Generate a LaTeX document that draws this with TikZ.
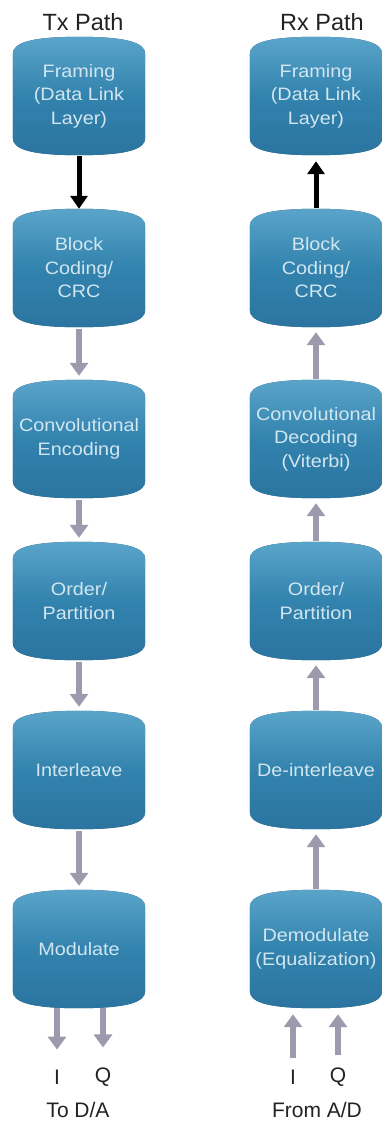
\documentclass[tikz,border=0pt]{standalone}
\usepackage{fontspec}
\setmainfont{Liberation Sans}
\newfontfamily\boxfont[FakeStretch=1.1]{Liberation Sans}
\usetikzlibrary{arrows.meta,calc,backgrounds}
\definecolor{boxtop}{HTML}{5AA4CA}
\definecolor{boxmid}{HTML}{3283AE}
\definecolor{boxbot}{HTML}{2B74A0}
\definecolor{boxrim}{HTML}{1B4E6E}
\definecolor{boxtext}{HTML}{D2E6F0}
\definecolor{arrowgray}{HTML}{9C9BAE}
\definecolor{labtext}{HTML}{222222}
\tikzset{
 stage/.style={rectangle, minimum width=132pt, minimum height=100pt, inner sep=0pt,
   align=center, text=boxtext, font=\boxfont\fontsize{18}{23.5}\selectfont},
 pathtitle/.style={font=\fontsize{23.5}{27}\selectfont, text=labtext, inner sep=0pt},
 lab/.style={font=\fontsize{21}{24}\selectfont, text=labtext, inner sep=0pt},
 grayarrow/.style={draw=arrowgray, line width=6pt, -{Triangle[width=18pt,length=13pt]}},
 blackarrow/.style={draw=black, line width=5pt, -{Triangle[width=17pt,length=13pt]}},
 rimfill/.style={fill=boxrim},
 bodyfill/.style={top color=boxtop, bottom color=boxbot, middle color=boxmid},
}
\newcommand\barrelshape[2][]{%
 \path[#1] ($(#2.south west)+(0,-8)$) -- ($(#2.north west)+(0,8)$)
  .. controls ($(#2.north west)+(0,-4)$) and ($(#2.north west)+(22,-9)$) .. ($(#2.north)+(0,-9)$)
  .. controls ($(#2.north east)+(-22,-9)$) and ($(#2.north east)+(0,-4)$) .. ($(#2.north east)+(0,8)$)
  -- ($(#2.south east)+(0,-8)$)
  .. controls ($(#2.south east)+(0,4)$) and ($(#2.south east)+(-22,9)$) .. ($(#2.south)+(0,9)$)
  .. controls ($(#2.south west)+(22,9)$) and ($(#2.south west)+(0,4)$) .. ($(#2.south west)+(0,-8)$)
  -- cycle;}
\begin{document}
\begin{tikzpicture}[x=1pt,y=-1pt]
\useasboundingbox (0,0) rectangle (382,1121);
% titles
\node[pathtitle] (txt) at (83,22) {Tx Path};
\node[pathtitle] (rxt) at (322,22) {Rx Path};
% Tx column
\node[stage] (tx1) at (79,96) {Framing\\(Data Link\\Layer)};
\node[stage] (tx2) at (79,268) {Block\\Coding/\\CRC};
\node[stage] (tx3) at (79,439) {Convolutional\\Encoding};
\node[stage] (tx4) at (79,601) {Order/\\Partition};
\node[stage] (tx5) at (79,770) {Interleave};
\node[stage] (tx6) at (79,949) {Modulate};
% Rx column
\node[stage] (rx1) at (316,96) {Framing\\(Data Link\\Layer)};
\node[stage] (rx2) at (316,268) {Block\\Coding/\\CRC};
\node[stage] (rx3) at (316,439) {Convolutional\\Decoding\\(Viterbi)};
\node[stage] (rx4) at (316,601) {Order/\\Partition};
\node[stage] (rx5) at (316,770) {De-interleave};
\node[stage] (rx6) at (316,949) {Demodulate\\(Equalization)};
% labels
\node[lab] (txI) at (57,1077) {I};
\node[lab] (txQ) at (103,1077) {Q};
\node[lab] (toda) at (78,1110) {To D/A};
\node[lab] (rxI) at (293,1077) {I};
\node[lab] (rxQ) at (338,1077) {Q};
\node[lab] (fromad) at (317,1110) {From A/D};
% shapes
\begin{scope}[on background layer]
\foreach \n in {tx1,tx2,tx3,tx4,tx5,tx6,rx1,rx2,rx3,rx4,rx5,rx6}{
  \barrelshape[rimfill,yshift=-3pt]{\n}
  \barrelshape[bodyfill]{\n}
}
\end{scope}
% Tx arrows
\draw[blackarrow] ($(tx1.south)+(0,10)$) -- ($(tx2.north)+(0,-9)$);
\draw[grayarrow] ($(tx2.south)+(0,11)$) -- ($(tx3.north)+(0,-13)$);
\draw[grayarrow] ($(tx3.south)+(0,11)$) -- ($(tx4.north)+(0,-13)$);
\draw[grayarrow] ($(tx4.south)+(0,11)$) -- ($(tx5.north)+(0,-13)$);
\draw[grayarrow] ($(tx5.south)+(0,11)$) -- ($(tx6.north)+(0,-13)$);
\coordinate (txIs) at ($(tx6.south)+(-22,9)$);
\coordinate (txQs) at ($(tx6.south)+(24,9)$);
\draw[grayarrow, shorten >=20pt] (txIs) -- (txIs |- txI.north);
\draw[grayarrow, shorten >=20pt] (txQs) -- (txQs |- txQ.north);
% Rx arrows
\draw[blackarrow] ($(rx2.north)+(0,-10)$) -- ($(rx1.south)+(0,15)$);
\draw[grayarrow] ($(rx3.north)+(0,-10)$) -- ($(rx2.south)+(0,14)$);
\draw[grayarrow] ($(rx4.north)+(0,-10)$) -- ($(rx3.south)+(0,14)$);
\draw[grayarrow] ($(rx5.north)+(0,-10)$) -- ($(rx4.south)+(0,14)$);
\draw[grayarrow] ($(rx6.north)+(0,-10)$) -- ($(rx5.south)+(0,14)$);
\coordinate (rxIe) at ($(rx6.south)+(-23,15)$);
\coordinate (rxQe) at ($(rx6.south)+(22,15)$);
\draw[grayarrow, shorten <=12pt] (rxIe |- rxI.north) -- (rxIe);
\draw[grayarrow, shorten <=12pt] (rxQe |- rxQ.north) -- (rxQe);
\end{tikzpicture}
\end{document}
